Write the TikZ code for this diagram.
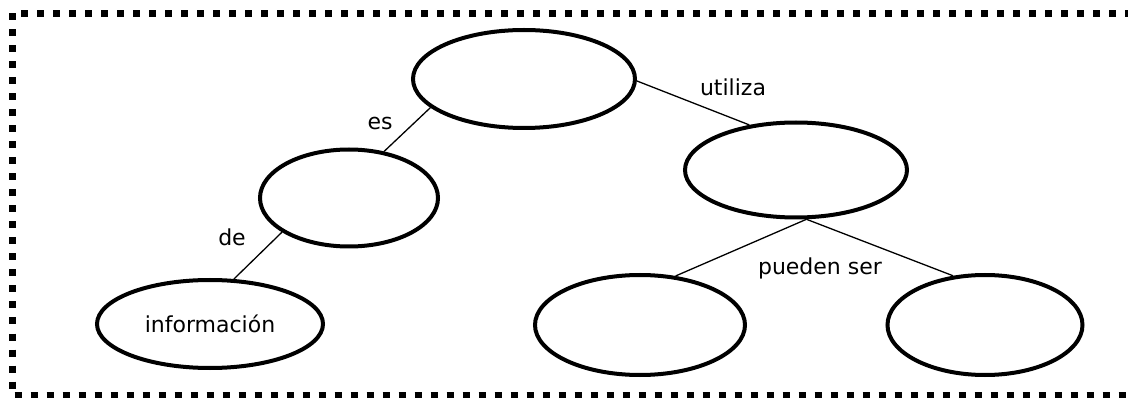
\documentclass[tikz,border=0pt]{standalone}
\usepackage{fontspec}
\setmainfont{DejaVu Sans}
\usetikzlibrary{shapes.geometric}

\begin{document}
\begin{tikzpicture}[x=1pt, y=-1pt]
        \tikzstyle{Concept} = [draw, ellipse, line width=4pt, inner sep=0pt,
                               font=\fontsize{22}{26}\selectfont]
        \tikzstyle{Link} = [line width=1.3pt]
        \tikzstyle{LinkText} = [font=\fontsize{22}{26}\selectfont]
        \useasboundingbox (0,0) rectangle (1128,398);
        \draw[line width=7pt, dash pattern=on 7pt off 9pt]
            (12.5,13.5) rectangle (1150,395.5);
        \node[Concept, minimum width=222, minimum height=98] (top) at (524,79) {};
        \node[Concept, minimum width=222, minimum height=95] (tool) at (796,170) {};
        \node[Concept, minimum width=178, minimum height=97] (kind) at (349,198) {};
        \node[Concept, minimum width=226, minimum height=88] (info) at (210,324) {informaci\'on};
        \node[Concept, minimum width=210, minimum height=100] (optA) at (640,325) {};
        \node[Concept, minimum width=195, minimum height=100] (optB) at (985,325) {};
        \coordinate (split) at (tool.-78);
        \draw[Link] (top.197) -- (kind.53);
        \draw[Link] (kind.207) -- (info.62);
        \draw[Link] (top.-1) -- (tool.136);
        \draw[Link] (split) -- (optA.54);
        \draw[Link] (split) -- (optB.123);
        \node[LinkText] (es) at (380,123) {es};
        \node[LinkText] (de) at (232,237) {de};
        \node[LinkText] (uses) at (733,87) {utiliza};
        \node[LinkText] (canbe) at (820,268) {pueden ser};
\end{tikzpicture}
\end{document}
